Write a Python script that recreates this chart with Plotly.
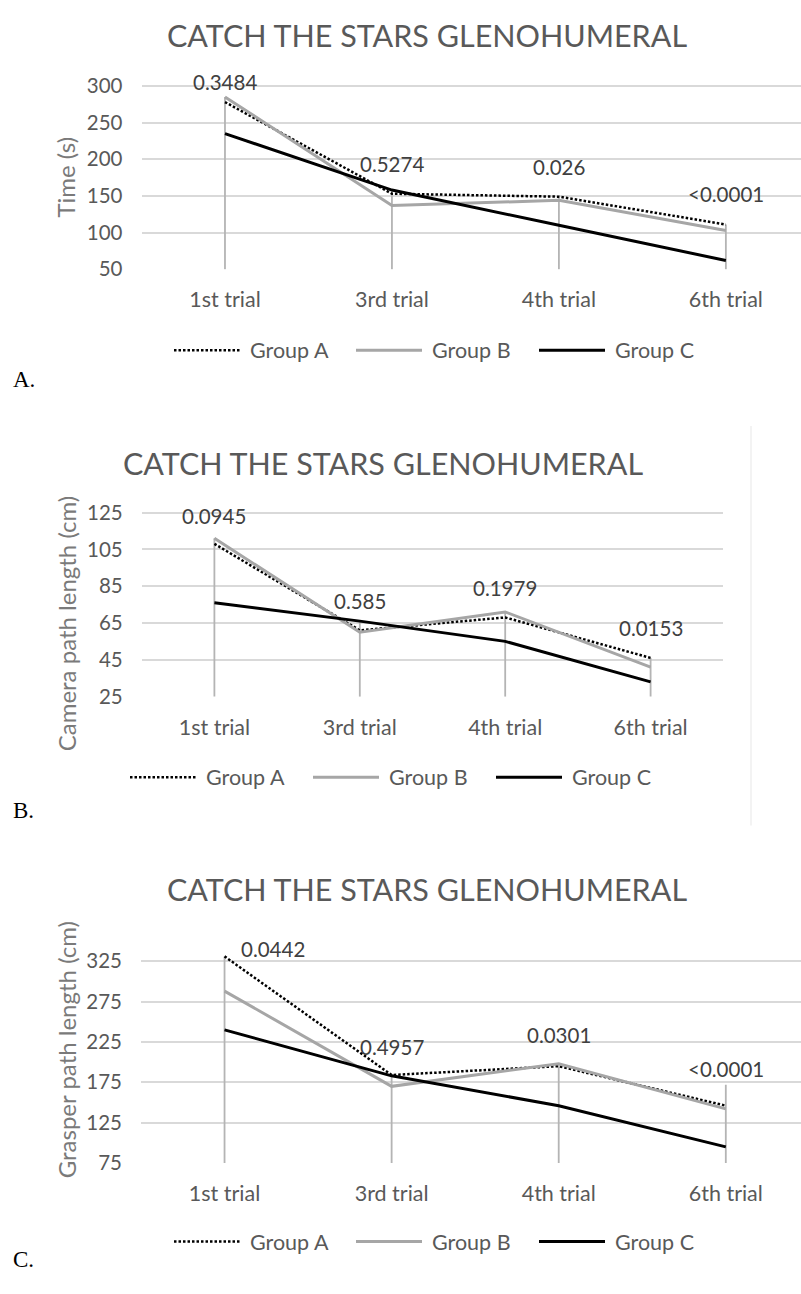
import plotly.graph_objects as go

W, H = 801, 1294

# ---------------- data ----------------
trials = ["1st trial", "3rd trial", "4th trial", "6th trial"]
groups = ["Group A", "Group B", "Group C"]

# Panel A: Time (s)
time_a = [278, 153, 149, 111]
time_b = [285, 137, 144, 103]
time_c = [235, 158, 110, 62]
time_p = ["0.3484", "0.5274", "0.026", "<0.0001"]
time_p_y = [305, 193, 190, 153]
time_drop_top = [285, 158, 149, 111]

# Panel B: Camera path length (cm)
cam_a = [108, 61, 68, 46]
cam_b = [111, 60, 71, 41]
cam_c = [76, 66, 55, 33]
cam_p = ["0.0945", "0.585", "0.1979", "0.0153"]
cam_p_y = [123, 77, 84, 62]
cam_drop_top = [111, 66, 71, 46]

# Panel C: Grasper path length (cm)
gr_a = [331, 184, 195, 146]
gr_b = [288, 170, 198, 142]
gr_c = [240, 183, 146, 95]
gr_p = ["0.0442", "0.4957", "0.0301", "<0.0001"]
gr_p_y = [340, 219, 233, 191]
gr_drop_top = [331, 184, 198, 172]

# ---------------- styling ----------------
FONT = "Lato, Liberation Sans, Arial, sans-serif"
SERIF = "Liberation Serif, Times New Roman, serif"
TICK_COL = "#595959"
TITLE_COL = "#595959"
AXT_COL = "#7a7a7a"
P_COL = "#404040"
GRID_COL = "#d9d9d9"
DROP_COL = "#b4b4b4"
GREY = "#a6a6a6"

styles = {
    "Group A": dict(color="black", width=2.5, dash="2.5px,2px"),
    "Group B": dict(color=GREY, width=3),
    "Group C": dict(color="black", width=3),
}


def px(x):
    return x / W


def py(y):
    return 1 - y / H


def ydomain(lo_px, lo_v, hi_px, hi_v, rmin, rmax):
    s = (lo_px - hi_px) / (hi_v - lo_v)
    top = hi_px - (rmax - hi_v) * s
    bot = lo_px + (lo_v - rmin) * s
    return [py(bot), py(top)]


panels = [
    dict(a=time_a, b=time_b, c=time_c, p=time_p, py_=time_p_y, drop=time_drop_top,
         base=50, xdom=[px(141.5), 1.0], xr=[-0.5, 3.45],
         yr=[49.5, 315], ydom=ydomain(266, 50, 80, 300, 49.5, 315),
         tick0=50, dtick=50, ytitle="Time (s)", ytitle_y=173,
         title_x=427, title_y=28, leg_y=348, leg_x=[174, 356, 539], lab="A.", lab_y=378,
         pshift=[0, 0, 0, 0]),
    dict(a=cam_a, b=cam_b, c=cam_c, p=cam_p, py_=cam_p_y, drop=cam_drop_top,
         base=25, xdom=[px(141.7), px(723.3)], xr=[-0.5, 3.5],
         yr=[24.7, 128], ydom=ydomain(699.3, 25, 512.7, 125, 24.7, 128),
         tick0=25, dtick=20, ytitle="Camera path length (cm)", ytitle_y=625,
         title_x=383, title_y=462, leg_y=781, leg_x=[130, 313, 496], lab="B.", lab_y=815,
         pshift=[0, 0, 0, 0]),
    dict(a=gr_a, b=gr_b, c=gr_c, p=gr_p, py_=gr_p_y, drop=gr_drop_top,
         base=75, xdom=[px(141.0), 1.0], xr=[-0.5, 3.45],
         yr=[74.5, 350], ydom=ydomain(1172.3, 75, 967.7, 325, 74.5, 350),
         tick0=75, dtick=50, ytitle="Grasper path length (cm)", ytitle_y=1058,
         title_x=427, title_y=894, leg_y=1252, leg_x=[174, 356, 539], lab="C.", lab_y=1270,
         pshift=[48, 0, 0, 0]),
]

fig = go.Figure()
annotations = []
shapes = []

for i, P in enumerate(panels):
    n = "" if i == 0 else str(i + 1)
    xa, ya = "x" + n, "y" + n
    # drop lines
    dx, dy = [], []
    for cat, top in zip(trials, P["drop"]):
        dx += [cat, cat, None]
        dy += [P["base"], top, None]
    fig.add_trace(go.Scatter(x=dx, y=dy, mode="lines", xaxis=xa, yaxis=ya,
                             line=dict(color=DROP_COL, width=1.8),
                             showlegend=False, hoverinfo="skip"))
    for g, vals in zip(groups, [P["a"], P["b"], P["c"]]):
        fig.add_trace(go.Scatter(x=trials, y=vals, mode="lines", name=g,
                                 xaxis=xa, yaxis=ya, line=styles[g],
                                 showlegend=False))
    # axes
    fig.layout["xaxis" + n] = dict(
        domain=P["xdom"], range=P["xr"], type="category", categoryarray=trials,
        showgrid=False, zeroline=False, showline=False, ticks="",
        tickfont=dict(family=FONT, size=21.5, color=TICK_COL),
        ticklabelstandoff=15, anchor=ya, fixedrange=True)
    fig.layout["yaxis" + n] = dict(
        domain=P["ydom"], range=P["yr"], tick0=P["tick0"], dtick=P["dtick"],
        showgrid=True, gridcolor=GRID_COL, gridwidth=1.6, zeroline=False,
        showline=False, ticks="", tickfont=dict(family=FONT, size=20.5, color=TICK_COL),
        ticklabelstandoff=18, anchor=xa, fixedrange=True)
    # p-value labels
    for cat, t, yv, sh in zip(trials, P["p"], P["py_"], P["pshift"]):
        annotations.append(dict(x=cat, y=yv, xref=xa, yref=ya, text=t, showarrow=False,
                                xshift=sh, font=dict(family=FONT, size=20.5, color=P_COL),
                                xanchor="center", yanchor="middle"))
    # title
    annotations.append(dict(x=px(P["title_x"]), y=py(P["title_y"]), xref="paper", yref="paper",
                            text="CATCH THE STARS GLENOHUMERAL", showarrow=False,
                            font=dict(family=FONT, size=30.5, color=TITLE_COL),
                            xanchor="center", yanchor="middle"))
    # y-axis title
    annotations.append(dict(x=px(66), y=py(P["ytitle_y"]), xref="paper", yref="paper",
                            text=P["ytitle"], showarrow=False, textangle=-90,
                            font=dict(family=FONT, size=24, color=AXT_COL),
                            xanchor="center", yanchor="middle"))
    # legend (manual)
    for g, lx in zip(groups, P["leg_x"]):
        st = styles[g]
        shapes.append(dict(type="line", xref="paper", yref="paper",
                           x0=px(lx), x1=px(lx + 66), y0=py(P["leg_y"]), y1=py(P["leg_y"]),
                           line=st))
        annotations.append(dict(x=px(lx + 74), y=py(P["leg_y"]), xref="paper", yref="paper",
                                text=g, showarrow=False, xanchor="left", yanchor="middle",
                                font=dict(family=FONT, size=21.5, color=TICK_COL)))
    # panel letter
    annotations.append(dict(x=px(11), y=py(P["lab_y"]), xref="paper", yref="paper",
                            text=P["lab"], showarrow=False, xanchor="left", yanchor="middle",
                            font=dict(family=SERIF, size=23, color="black")))

# faint border at the right of panel B
shapes.append(dict(type="line", xref="paper", yref="paper", x0=px(751), x1=px(751),
                   y0=py(425), y1=py(830), line=dict(color="#efefef", width=1.5)))

fig.update_layout(width=W, height=H, margin=dict(l=0, r=0, t=0, b=0),
                  paper_bgcolor="white", plot_bgcolor="white",
                  annotations=annotations, shapes=shapes, showlegend=False)

fig.write_html("out.html", config={"displayModeBar": False},
               post_script="document.body.style.margin='0';document.body.style.overflow='hidden';")
